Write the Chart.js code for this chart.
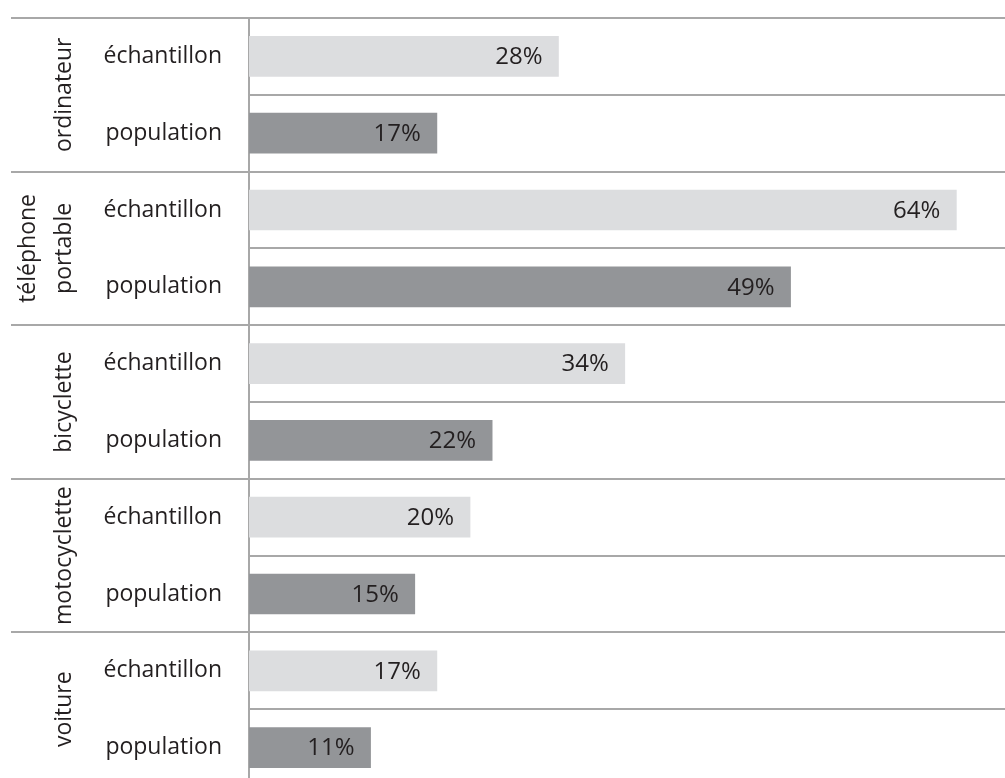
<!DOCTYPE html>
<html lang="fr">
<head>
<meta charset="utf-8">
<title>échantillon / population</title>
<script src="https://cdn.jsdelivr.net/npm/chart.js@4/dist/chart.umd.min.js"></script>
<style>
    html, body { margin: 0; padding: 0; background: #ffffff; overflow: hidden; }
    .chart-wrap { position: relative; width: 1005px; height: 786px; }
</style>
</head>
<body>
<div class="chart-wrap">
    <canvas id="equipChart"></canvas>
</div>
<script>
// Data
const groups = ['ordinateur', ['téléphone', 'portable'], 'bicyclette', 'motocyclette', 'voiture'];
const rowNames = ['échantillon', 'population'];
const echantillon = [28, 64, 34, 20, 17];
const population = [17, 49, 22, 15, 11];
const xMax = 68.4;

const gridColor = '#a8a8a8';
const textColor = '#231f20';
const fontFamily = '"Open Sans", "Noto Sans", sans-serif';

// one row per (group, sample/population)
const rowLabels = [];
const echData = [];
const popData = [];
groups.forEach((g, i) => {
    rowLabels.push(rowNames[0], rowNames[1]);
    echData.push(echantillon[i], null);
    popData.push(null, population[i]);
});

// left part of the group separators + rotated group names
const groupLabelsPlugin = {
    id: 'groupLabels',
    afterDraw(chart) {
        const ctx = chart.ctx;
        const y = chart.scales.y;
        const left = chart.chartArea.left;
        const pitch = y.getPixelForValue(1) - y.getPixelForValue(0);

        ctx.save();
        ctx.strokeStyle = gridColor;
        ctx.lineWidth = 2;
        for (let i = 0; i <= rowLabels.length; i += 2) {
            const py = Math.round(y.getPixelForValue(i) - pitch / 2);
            ctx.beginPath();
            ctx.moveTo(11, py);
            ctx.lineTo(left, py);
            ctx.stroke();
        }

        ctx.fillStyle = textColor;
        ctx.font = '23px ' + fontFamily;
        ctx.textAlign = 'center';
        ctx.textBaseline = 'middle';
        groups.forEach((g, i) => {
            const lines = Array.isArray(g) ? g : [g];
            const cy = (y.getPixelForValue(2 * i) + y.getPixelForValue(2 * i + 1)) / 2;
            lines.forEach((line, k) => {
                const cx = 64 - (lines.length - 1 - k) * 36;
                ctx.save();
                ctx.translate(cx, cy);
                ctx.rotate(-Math.PI / 2);
                ctx.fillText(line, 0, 0);
                ctx.restore();
            });
        });
        ctx.restore();
    }
};

// value labels inside the bar ends
const valueLabelsPlugin = {
    id: 'valueLabels',
    afterDatasetsDraw(chart) {
        const ctx = chart.ctx;
        ctx.save();
        ctx.fillStyle = textColor;
        ctx.font = '24px ' + fontFamily;
        ctx.textAlign = 'right';
        ctx.textBaseline = 'middle';
        chart.data.datasets.forEach((ds, di) => {
            chart.getDatasetMeta(di).data.forEach((bar, idx) => {
                const v = ds.data[idx];
                if (v === null || v === undefined) return;
                ctx.fillText(v + '%', bar.x - 16, bar.y + 1);
            });
        });
        ctx.restore();
    }
};

new Chart(document.getElementById('equipChart').getContext('2d'), {
    type: 'bar',
    data: {
        labels: rowLabels,
        datasets: [{
            label: 'échantillon',
            data: echData,
            backgroundColor: '#dcdddf',
            barThickness: 40
        }, {
            label: 'population',
            data: popData,
            backgroundColor: '#939598',
            barThickness: 40
        }]
    },
    options: {
        indexAxis: 'y',
        responsive: true,
        maintainAspectRatio: false,
        animation: false,
        layout: {
            padding: { top: 18, left: 0, right: 0, bottom: 0 }
        },
        plugins: {
            legend: { display: false },
            tooltip: { enabled: false }
        },
        scales: {
            x: {
                display: false,
                stacked: true,
                min: 0,
                max: xMax
            },
            y: {
                stacked: true,
                afterFit(scale) {
                    scale.width = 249;
                    scale.paddingTop = 0;
                    scale.paddingBottom = 0;
                },
                grid: {
                    offset: true,
                    color: gridColor,
                    lineWidth: 2,
                    drawTicks: false
                },
                border: {
                    display: true,
                    color: gridColor,
                    width: 2
                },
                ticks: {
                    color: textColor,
                    padding: 27,
                    font: {
                        family: fontFamily,
                        size: 23
                    }
                }
            }
        }
    },
    plugins: [groupLabelsPlugin, valueLabelsPlugin]
});
</script>
</body>
</html>
